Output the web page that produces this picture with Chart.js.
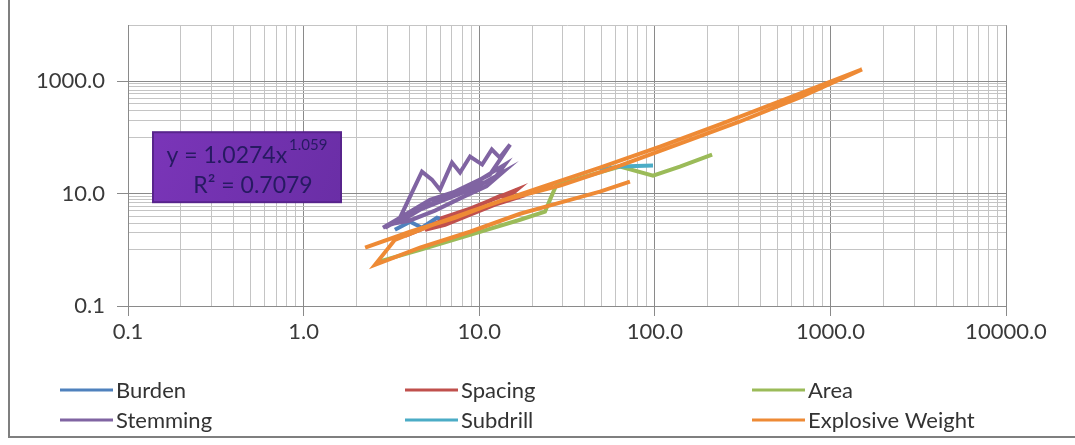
<!DOCTYPE html>
<html>
<head>
<meta charset="utf-8">
<script src="https://cdn.jsdelivr.net/npm/chart.js@4/dist/chart.umd.min.js"></script>
<style>
  html, body { margin: 0; padding: 0; background: #ffffff; }
  #wrap { width: 1075px; height: 445px; }
</style>
</head>
<body>
<div id="wrap"><canvas id="c" width="1075" height="445"></canvas></div>
<script>
// Series names, in legend order
const seriesNames = ['Burden', 'Spacing', 'Area', 'Stemming', 'Subdrill', 'Explosive Weight'];
const seriesColors = ['#4F81BD', '#C0504D', '#9BBB59', '#8064A2', '#4BACC6', '#EE8A35'];

// Axis tick labels (log scales)
const xTickLabels = ['0.1', '1.0', '10.0', '100.0', '1000.0', '10000.0'];
const yTickLabels = ['0.1', '10.0', '1000.0'];

// Series values (x, y pairs in plotting order)
const burdenX = [3.31, 4.04, 4.72, 5.75, 6.82];
const burdenY = [2.28, 3.16, 2.47, 3.73, 3.16];

const spacingX = [3.78, 5.24, 7.28, 10.1, 16.4, 14.0, 10.1, 6.82, 4.91, 6.39, 8.87, 12.3, 16.4, 13.1, 9.5, 6.0];
const spacingY = [1.78, 2.68, 4.22, 6.36, 11.8, 7.81, 5.18, 3.43, 2.28, 2.80, 4.22, 6.36, 8.48, 9.1, 5.8, 3.6];

const areaX = [2.65, 4.60, 8.87, 17.1, 23.7, 25.3, 27.4, 40.0, 63.4, 97.7, 139, 212];
const areaY = [0.61, 1.00, 1.85, 3.43, 4.77, 7.81, 13.9, 20.1, 30.4, 21.0, 30.4, 49.7];

const stemmingX = [2.83, 3.54, 4.72, 5.38, 5.98, 7.00, 7.78, 8.87, 10.4, 11.8, 13.1, 15.0, 11.5, 8.87, 6.82, 5.24, 4.04, 3.10, 3.54, 4.60, 6.39, 8.87, 12.3, 14.0, 10.1, 7.28, 5.24, 3.78, 2.91, 3.6, 4.9, 6.6, 8.4, 10.8, 13.6, 11.0, 8.0, 5.6, 4.0, 3.2];
const stemmingY = [2.47, 3.73, 24.7, 17.8, 11.8, 35.8, 23.7, 45.8, 33.0, 61.1, 43.9, 75.0, 21.8, 14.5, 9.60, 6.36, 4.22, 2.80, 3.16, 5.18, 7.81, 11.8, 19.3, 33.0, 17.8, 10.9, 7.81, 4.22, 2.47, 3.6, 5.9, 9.0, 13.0, 16.0, 24.0, 13.5, 8.6, 5.0, 3.3, 2.9];

const subdrillX = [48.7, 63.4, 97.7];
const subdrillY = [26.8, 30.4, 31.6];

const explosiveX = [2.24, 4.04, 7.28, 11.5, 22.2, 48.7, 107, 235, 589, 1514, 671, 306, 139, 63.4, 28.9, 14.0, 8.87, 5.24, 3.31, 2.55, 4.60, 8.87, 17.1, 28.9, 48.7, 72.2];
const explosiveY = [1.09, 2.10, 3.73, 6.36, 12.8, 29.1, 69.1, 171, 518, 1638, 518, 193, 78.1, 31.6, 13.9, 7.81, 4.77, 2.68, 1.51, 0.54, 1.09, 2.10, 4.39, 6.91, 10.9, 16.4];

// Power trendline label
const trendEquation = 'y = 1.0274x';
const trendExponent = '1.059';
const trendR2Label = 'R² = 0.7079';

const FONT = 'Lato, "Open Sans", "DejaVu Sans", sans-serif';
const TEXT = '#3a3a3a';
const GRID_MAJOR = '#8a8a8a';
const GRID_MINOR = '#c4c4c4';

function pairs(xs, ys) { return xs.map((x, i) => ({ x: x, y: ys[i] })); }

const seriesData = [
  pairs(burdenX, burdenY),
  pairs(spacingX, spacingY),
  pairs(areaX, areaY),
  pairs(stemmingX, stemmingY),
  pairs(subdrillX, subdrillY),
  pairs(explosiveX, explosiveY)
];

const datasets = seriesNames.map((name, i) => ({
  label: name,
  data: seriesData[i],
  showLine: true,
  borderColor: seriesColors[i],
  backgroundColor: seriesColors[i],
  borderWidth: 4,
  pointRadius: 0,
  tension: 0,
  fill: false,
  order: seriesNames.length - i   // later series painted on top
}));

const round = v => Number(v.toPrecision(6));

// x: a decade grid with 2..9 minor lines
function buildXTicks(scale) {
  const majors = xTickLabels.map(parseFloat);
  const ticks = [];
  majors.forEach((m, i) => {
    ticks.push({ value: m, major: true });
    if (i < majors.length - 1) {
      for (let k = 2; k <= 9; k++) ticks.push({ value: round(m * k), major: false });
    }
  });
  scale.ticks = ticks;
}

// y: majors every two decades, minors at 10·a·k between them
function buildYTicks(scale) {
  const majors = yTickLabels.map(parseFloat);
  const ticks = [];
  majors.forEach(m => {
    ticks.push({ value: m, major: true });
    for (let k = 1; k <= 9; k++) {
      const v = round(m * 10 * k);
      if (v <= scale.max + 1e-9) ticks.push({ value: v, major: false });
    }
  });
  scale.ticks = ticks.sort((a, b) => a.value - b.value);
}

function labelFor(list) {
  return function (value, index, ticks) {
    const t = ticks[index];
    if (!t || !t.major) return '';
    const hit = list.find(s => Math.abs(parseFloat(s) - value) < 1e-9 * Math.max(1, value));
    return hit || '';
  };
}

const gridColor = ctx => (ctx.tick && ctx.tick.major ? GRID_MAJOR : GRID_MINOR);
const tickColor = ctx => (ctx.tick && ctx.tick.major ? GRID_MAJOR : 'rgba(0,0,0,0)');

// Frame round the whole chart
const framePlugin = {
  id: 'frame',
  beforeDraw(chart) {
    const c = chart.ctx;
    c.save();
    c.fillStyle = '#ffffff';
    c.fillRect(0, 0, chart.width, chart.height);
    c.strokeStyle = '#7f7f7f';
    c.lineWidth = 2;
    c.strokeRect(9, -4, chart.width + 10, chart.height - 4);
    c.restore();
  }
};

// Two-row legend, three columns
const legendPlugin = {
  id: 'gridLegend',
  afterDraw(chart) {
    const c = chart.ctx;
    const cols = [60, 405, 752];
    const rows = [390, 420];
    c.save();
    c.font = '22px ' + FONT;
    c.textBaseline = 'middle';
    c.textAlign = 'left';
    chart.data.datasets.forEach((ds, i) => {
      const x = cols[i % 3];
      const y = rows[Math.floor(i / 3)];
      c.strokeStyle = ds.borderColor;
      c.lineWidth = 3;
      c.beginPath();
      c.moveTo(x, y);
      c.lineTo(x + 53, y);
      c.stroke();
      c.fillStyle = '#333333';
      c.fillText(ds.label, x + 56, y + 1);
    });
    c.restore();
  }
};

// Trendline equation box
const trendLabelPlugin = {
  id: 'trendLabel',
  afterDatasetsDraw(chart) {
    const a = chart.chartArea;
    const c = chart.ctx;
    const bx = a.left + 25, by = a.top + 107, bw = 188, bh = 70;
    c.save();
    const g = c.createLinearGradient(bx, by, bx + bw, by + bh);
    g.addColorStop(0, '#7a35b8');
    g.addColorStop(1, '#6a2ea6');
    c.fillStyle = g;
    c.fillRect(bx, by, bw, bh);
    c.strokeStyle = '#58248c';
    c.lineWidth = 2;
    c.strokeRect(bx, by, bw, bh);

    c.fillStyle = '#271a62';
    c.textBaseline = 'middle';
    c.textAlign = 'left';
    c.font = '23px ' + FONT;
    const eqW = c.measureText(trendEquation).width;
    c.font = '15px ' + FONT;
    const expW = c.measureText(trendExponent).width;
    const start = bx + (bw - eqW - expW - 2) / 2;
    c.font = '23px ' + FONT;
    c.fillText(trendEquation, start, by + 23);
    c.font = '15px ' + FONT;
    c.fillText(trendExponent, start + eqW + 2, by + 13);
    c.font = '23px ' + FONT;
    c.textAlign = 'center';
    c.fillText(trendR2Label, bx + bw / 2 + 6, by + 53);
    c.restore();
  }
};

function draw() {
  new Chart(document.getElementById('c'), {
    type: 'scatter',
    data: { datasets: datasets },
    options: {
      responsive: false,
      animation: false,
      devicePixelRatio: 1,
      layout: { padding: { top: 25, right: 69, bottom: 0, left: 0 } },
      plugins: { legend: { display: false }, tooltip: { enabled: false }, title: { display: false } },
      scales: {
        x: {
          type: 'logarithmic',
          position: 'bottom',
          min: 0.1,
          max: 10000,
          afterBuildTicks: buildXTicks,
          afterFit: s => { s.height = 139; },
          border: { display: true, color: GRID_MAJOR, width: 1 },
          grid: { color: gridColor, tickColor: tickColor, lineWidth: 1, drawTicks: true, tickLength: 10 },
          ticks: {
            autoSkip: false, maxRotation: 0, minRotation: 0, padding: 3,
            color: TEXT, font: { family: FONT, size: 22 },
            callback: labelFor(xTickLabels)
          }
        },
        y: {
          type: 'logarithmic',
          min: 0.1,
          max: 10000,
          afterBuildTicks: buildYTicks,
          afterFit: s => { s.width = 128; },
          border: { display: true, color: GRID_MAJOR, width: 1 },
          grid: { color: gridColor, tickColor: tickColor, lineWidth: 1, drawTicks: true, tickLength: 11 },
          ticks: {
            autoSkip: false, padding: 12,
            color: TEXT, font: { family: FONT, size: 22 },
            callback: labelFor(yTickLabels)
          }
        }
      }
    },
    plugins: [framePlugin, trendLabelPlugin, legendPlugin]
  });
}

if (document.fonts && document.fonts.load) {
  Promise.all([document.fonts.load('22px Lato'), document.fonts.load('15px Lato')]).then(draw, draw);
} else {
  draw();
}
</script>
</body>
</html>
